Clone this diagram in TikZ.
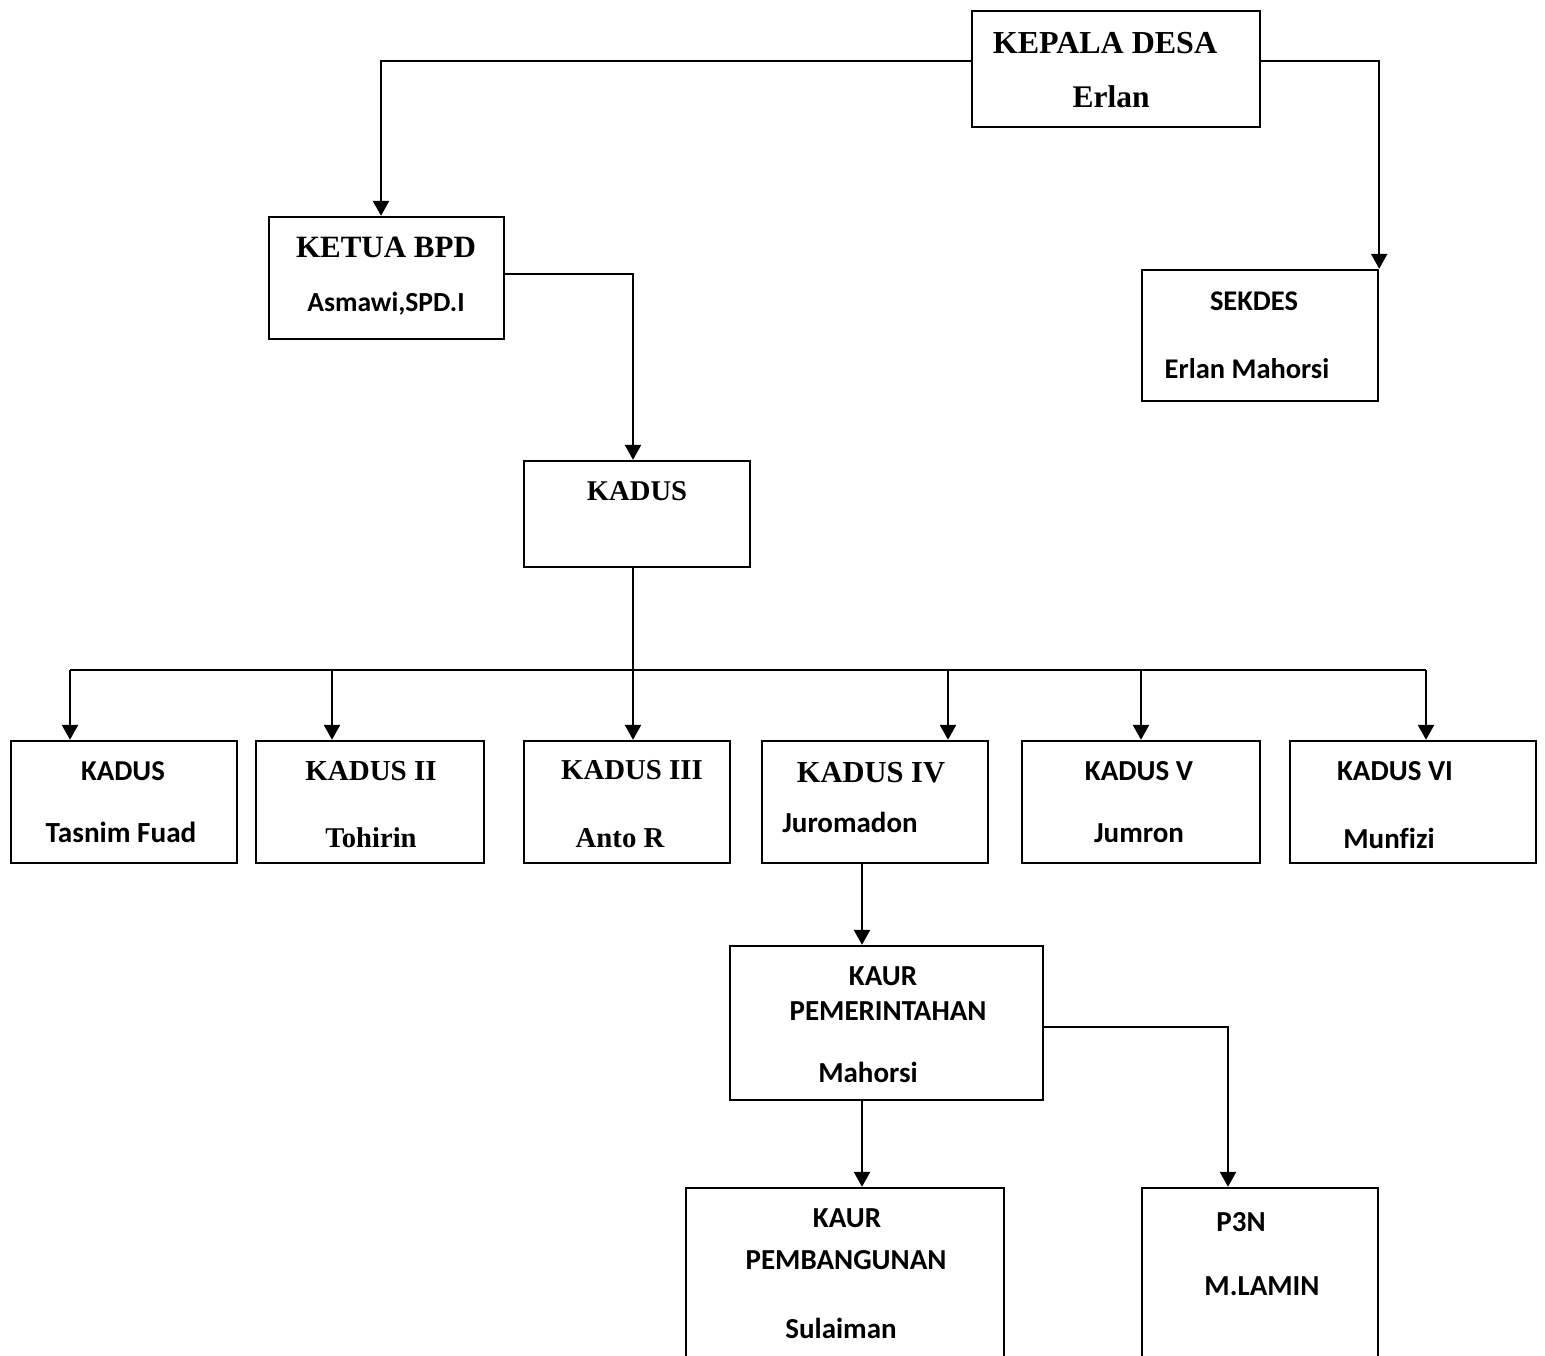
\documentclass[tikz,border=0pt]{standalone}
\usepackage{fontspec}
\newfontfamily\serf{Liberation Serif}
\newfontfamily\sanf[Ligatures=NoCommon]{Carlito}
\usetikzlibrary{arrows.meta,fit}
\tikzset{
  box/.style={draw, line width=1.2pt, inner sep=0pt, fit={#1}},
  lbl/.style={anchor=base, inner sep=0pt},
  sr/.style={lbl, font=\serf\bfseries\fontsize{#1}{#1}\selectfont},
  sn/.style={lbl, font=\sanf\bfseries\fontsize{#1}{#1}\selectfont},
  conn/.style={line width=1.2pt},
  arr/.style={conn, -{Triangle[length=7.5pt,width=8pt]}}
}
\begin{document}
\begin{tikzpicture}[x=0.5pt,y=-0.5pt]
\useasboundingbox (0,0) rectangle (1545,1355);
\clip (0,0) rectangle (1545,1355);
% boxes
\node[box={(972,11) (1260,127)}] (kd) {};
\node[box={(269,217) (504,339)}] (bpd) {};
\node[box={(1142,270) (1378,401)}] (sek) {};
\node[box={(524,461) (750,567)}] (kad) {};
\node[box={(11,741) (237,863)}] (k1) {};
\node[box={(256,741) (484,863)}] (k2) {};
\node[box={(524,741) (730,863)}] (k3) {};
\node[box={(762,741) (988,863)}] (k4) {};
\node[box={(1022,741) (1260,863)}] (k5) {};
\node[box={(1290,741) (1536,863)}] (k6) {};
\node[box={(730,946) (1043,1100)}] (kp) {};
\node[box={(686,1188) (1004,1380)}] (kb) {};
\node[box={(1142,1188) (1378,1380)}] (p3) {};
% texts
\node[sr=16] (tkd1) at (1105,53) {KEPALA DESA};
\node[sr=15.75] (tkd2) at (1111,107) {Erlan};
\node[sr=15.5] (tbpd1) at (386,257) {KETUA BPD};
\node[sn=13.8] (tbpd2) at (386,311) {Asmawi,SPD.I};
\node[sn=14.25] (tsek1) at (1254,310) {SEKDES};
\node[sn=14.25] (tsek2) at (1247,378) {Erlan Mahorsi};
\node[sr=14.3] (tkad) at (637,500) {KADUS};
\node[sn=14.4] (tk11) at (123,780) {KADUS};
\node[sn=14.6] (tk12) at (121,842) {Tasnim Fuad};
\node[sr=14.5] (tk21) at (371,780) {KADUS II};
\node[sr=14.3] (tk22) at (371,847) {Tohirin};
\node[sr=14.4] (tk31) at (632,779) {KADUS III};
\node[sr=14.4] (tk32) at (620,847) {Anto R};
\node[sr=15.25] (tk41) at (871,782) {KADUS IV};
\node[sn=14.5] (tk42) at (850,832) {Juromadon};
\node[sn=14.5] (tk51) at (1139,780) {KADUS V};
\node[sn=14.5] (tk52) at (1139,842) {Jumron};
\node[sn=14.5] (tk61) at (1395,780) {KADUS VI};
\node[sn=14.5] (tk62) at (1389,848) {Munf\kern0pt izi};
\node[sn=14.5] (tkp1) at (883,985) {KAUR};
\node[sn=14.5] (tkp2) at (888,1020) {PEMERINTAHAN};
\node[sn=14.5] (tkp3) at (868,1082) {Mahorsi};
\node[sn=14.5] (tkb1) at (847,1227) {KAUR};
\node[sn=14.5] (tkb2) at (846,1269) {PEMBANGUNAN};
\node[sn=14.5] (tkb3) at (841,1338) {Sulaiman};
\node[sn=14.5] (tp31) at (1241,1231) {P3N};
\node[sn=14.5] (tp32) at (1262,1295) {M.LAMIN};
% connectors
\draw[arr] (kd.west |- 0,61) -| (bpd.north -| 381,0);
\draw[arr] (kd.east |- 0,61) -| (sek.north east);
\draw[arr] (bpd.east |- 0,274) -| (kad.north -| 633,0);
\draw[arr] (kad.south -| 633,0) -- (k3.north -| 633,0);
\coordinate (busL) at (70,670);
\coordinate (busR) at (1426,670);
\draw[conn] (busL) -- (busR);
\draw[arr] (busL) -- (k1.north -| busL);
\draw[arr] (busL -| 332,0) -- (k2.north -| 332,0);
\draw[arr] (busL -| 948,0) -- (k4.north -| 948,0);
\draw[arr] (busL -| 1141,0) -- (k5.north -| 1141,0);
\draw[arr] (busR) -- (k6.north -| busR);
\draw[arr] (k4.south -| 862,0) -- (kp.north -| 862,0);
\draw[arr] (kp.south -| 862,0) -- (kb.north -| 862,0);
\draw[arr] (kp.east |- 0,1027) -| (p3.north -| 1228,0);
\end{tikzpicture}
\end{document}
